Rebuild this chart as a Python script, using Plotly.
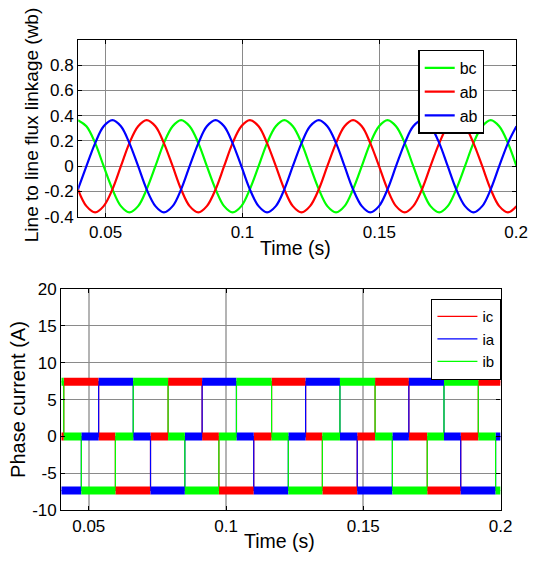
import plotly.graph_objects as go

flux_t = [0.0399, 0.0430, 0.0462, 0.0493, 0.0525, 0.0556, 0.0587, 0.0619, 0.0650, 0.0682,
          0.0713, 0.0745, 0.0776, 0.0807, 0.0839, 0.0870, 0.0902, 0.0933, 0.0964, 0.0996,
          0.1027, 0.1059, 0.1090, 0.1122, 0.1153, 0.1184, 0.1216, 0.1247, 0.1279, 0.1310,
          0.1342, 0.1373, 0.1404, 0.1436, 0.1467, 0.1499, 0.1530, 0.1561, 0.1593, 0.1624,
          0.1656, 0.1687, 0.1719, 0.1750, 0.1781, 0.1813, 0.1844, 0.1876, 0.1907, 0.1938,
          0.1970, 0.2001]
flux_bc = [0.365, 0.316, 0.183, 0.0, -0.183, -0.316, -0.365, -0.316, -0.183, 0.0, 0.183, 0.316,
           0.365, 0.316, 0.183, 0.0, -0.183, -0.316, -0.365, -0.316, -0.183, 0.0, 0.183, 0.316,
           0.365, 0.316, 0.183, 0.0, -0.183, -0.316, -0.365, -0.316, -0.183, 0.0, 0.183, 0.316,
           0.365, 0.316, 0.183, 0.0, -0.183, -0.316, -0.365, -0.316, -0.183, 0.0, 0.183, 0.316,
           0.365, 0.316, 0.183, 0.0]
flux_ab_red = [-0.183, -0.316, -0.365, -0.316, -0.183, 0.0, 0.183, 0.316, 0.365, 0.316, 0.183, 0.0,
               -0.183, -0.316, -0.365, -0.316, -0.183, 0.0, 0.183, 0.316, 0.365, 0.316, 0.183, 0.0,
               -0.183, -0.316, -0.365, -0.316, -0.183, 0.0, 0.183, 0.316, 0.365, 0.316, 0.183, 0.0,
               -0.183, -0.316, -0.365, -0.316, -0.183, 0.0, 0.183, 0.316, 0.365, 0.316, 0.183, 0.0,
               -0.183, -0.316, -0.365, -0.316]
flux_ab_blue = [-0.183, 0.0, 0.183, 0.316, 0.365, 0.316, 0.183, 0.0, -0.183, -0.316, -0.365, -0.316,
                -0.183, 0.0, 0.183, 0.316, 0.365, 0.316, 0.183, 0.0, -0.183, -0.316, -0.365, -0.316,
                -0.183, 0.0, 0.183, 0.316, 0.365, 0.316, 0.183, 0.0, -0.183, -0.316, -0.365, -0.316,
                -0.183, 0.0, 0.183, 0.316, 0.365, 0.316, 0.183, 0.0, -0.183, -0.316, -0.365, -0.316,
                -0.183, 0.0, 0.183, 0.316]

# ---------------- data: phase currents (switching instants and levels) ----------------
ic_t = [0.04, 0.0409, 0.0536, 0.0597, 0.0725, 0.0789, 0.0913, 0.0974, 0.1101, 0.1166,
        0.1290, 0.1351, 0.1478, 0.1543, 0.1666, 0.1733, 0.1855, 0.1919, 0.2]
ic_v = [0, 7.4, 0, -7.3, 0, 7.4, 0, -7.3, 0, 7.4, 0, -7.3, 0, 7.4, 0, -7.3, 0, 7.4, 7.4]

ia_t = [0.04, 0.0473, 0.0536, 0.0662, 0.0725, 0.0850, 0.0913, 0.1038, 0.1101, 0.1227,
        0.1290, 0.1415, 0.1478, 0.1606, 0.1666, 0.1794, 0.1855, 0.1982, 0.2]
ia_v = [-7.3, 0, 7.4, 0, -7.3, 0, 7.4, 0, -7.3, 0, 7.4, 0, -7.3, 0, 7.4, 0, -7.3, 0, 0]

ib_t = [0.04, 0.0409, 0.0473, 0.0597, 0.0662, 0.0789, 0.0850, 0.0974, 0.1038, 0.1166,
        0.1227, 0.1351, 0.1415, 0.1543, 0.1606, 0.1733, 0.1794, 0.1919, 0.1982, 0.2]
ib_v = [7.4, 0, -7.3, 0, 7.4, 0, -7.3, 0, 7.4, 0, -7.3, 0, 7.4, 0, -7.3, 0, 7.4, 0, -7.3, -7.3]

# ---------------- tick labels ----------------
x_ticks = [0.05, 0.1, 0.15, 0.2]
x_ticklabels = ["0.05", "0.1", "0.15", "0.2"]
flux_yticks = [-0.4, -0.2, 0, 0.2, 0.4, 0.6, 0.8, 1.0]
flux_yticklabels = ["-0.4", "-0.2", "0", "0.2", "0.4", "0.6", "0.8", ""]
cur_yticks = [-10, -5, 0, 5, 10, 15, 20]
cur_yticklabels = ["-10", "-5", "0", "5", "10", "15", "20"]

GREEN = "#00ff00"
RED = "#ff0000"
BLUE = "#0000ff"
FONT = "Arial, Liberation Sans, sans-serif"

fig = go.Figure()

# top plot
for name, ys, col in [("bc", flux_bc, GREEN), ("ab", flux_ab_red, RED), ("ab", flux_ab_blue, BLUE)]:
    fig.add_trace(go.Scatter(x=flux_t, y=ys, mode="lines", name=name,
                             line=dict(color=col, width=2.2, shape="spline", smoothing=1.0),
                             xaxis="x", yaxis="y", legend="legend"))

# bottom plot
def plateau(ts, vs):
    xs, ys = [], []
    for i in range(len(ts) - 1):
        xs += [ts[i], ts[i + 1], None]
        ys += [vs[i], vs[i], None]
    return xs, ys

for name, ts, vs, col in [("ic", ic_t, ic_v, RED), ("ia", ia_t, ia_v, BLUE), ("ib", ib_t, ib_v, GREEN)]:
    fig.add_trace(go.Scatter(x=ts, y=vs, mode="lines", name=name,
                             line=dict(color=col, width=1.2, shape="hv"),
                             xaxis="x2", yaxis="y2", legend="legend2"))
for name, ts, vs, col in [("ic", ic_t, ic_v, RED), ("ia", ia_t, ia_v, BLUE), ("ib", ib_t, ib_v, GREEN)]:
    px, py = plateau(ts, vs)
    fig.add_trace(go.Scatter(x=px, y=py, mode="lines", name=name, showlegend=False,
                             line=dict(color=col, width=8),
                             xaxis="x2", yaxis="y2"))

W, H = 536, 562
axis_common = dict(showline=True, linecolor="black", linewidth=1.3, mirror="ticks",
                   ticks="inside", ticklen=4, tickcolor="black", zeroline=False,
                   tickfont=dict(family=FONT, size=17, color="black"))

fig.update_layout(
    width=W, height=H, margin=dict(l=0, r=0, t=0, b=0),
    paper_bgcolor="white", plot_bgcolor="white",
    font=dict(family=FONT, color="black"),
    xaxis=dict(domain=[80 / W, 528 / W], range=[0.04, 0.2], tickvals=x_ticks,
               ticktext=x_ticklabels, anchor="y", showgrid=True, gridcolor="#8a8a8a",
               gridwidth=1, **axis_common),
    yaxis=dict(domain=[1 - 215 / H, 1 - 32 / H], range=[-0.4, 1.0], tickvals=flux_yticks,
               ticktext=flux_yticklabels, anchor="x", showgrid=True, gridcolor="#8a8a8a",
               gridwidth=1, **axis_common),
    xaxis2=dict(domain=[62.7 / W, 512 / W], range=[0.04, 0.2], tickvals=x_ticks,
                ticktext=x_ticklabels, anchor="y2", showgrid=True, gridcolor="#b4b4b4",
                gridwidth=2, **axis_common),
    yaxis2=dict(domain=[1 - 519 / H, 1 - 289.5 / H], range=[-10, 20], tickvals=cur_yticks,
                ticktext=cur_yticklabels, anchor="x2", showgrid=True, gridcolor="#8a8a8a",
                gridwidth=1, **axis_common),
    legend=dict(x=428 / W, y=1 - 42 / H, xanchor="left", yanchor="top",
                bgcolor="white", bordercolor="black", borderwidth=1.3,
                font=dict(family=FONT, size=16), tracegroupgap=0),
    legend2=dict(x=441 / W, y=1 - 300 / H, xanchor="left", yanchor="top",
                 bgcolor="white", bordercolor="black", borderwidth=1.3,
                 font=dict(family=FONT, size=15), tracegroupgap=0, itemwidth=40),
    showlegend=True,
)

annots = [
    dict(text="Line to line flux linkage (wb)", x=33 / W, y=1 - 120 / H, textangle=-90, size=19),
    dict(text="Time (s)", x=302 / W, y=1 - 247 / H, textangle=0, size=19.5),
    dict(text="Phase current (A)", x=19 / W, y=1 - 404 / H, textangle=-90, size=20),
    dict(text="Time (s)", x=286 / W, y=1 - 551 / H, textangle=0, size=19.5),
]
for a in annots:
    fig.add_annotation(text=a["text"], x=a["x"], y=a["y"], xref="paper", yref="paper",
                       xanchor="center", yanchor="middle", showarrow=False,
                       textangle=a["textangle"], font=dict(family=FONT, size=a["size"], color="black"))

fig.write_html("out.html")
